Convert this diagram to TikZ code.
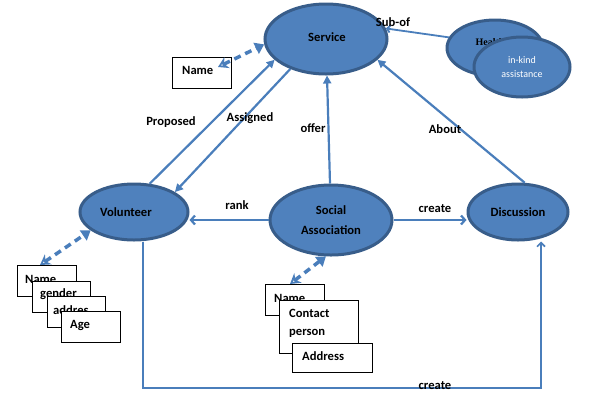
\documentclass[tikz,border=0pt]{standalone}
\usepackage{fontspec}
\setmainfont{Carlito}
\newfontfamily\serifhl{Liberation Serif}
\usetikzlibrary{shapes.geometric,arrows.meta}
\definecolor{fillb}{RGB}{79,129,189}
\definecolor{edgeb}{RGB}{56,93,138}
\definecolor{lineb}{RGB}{74,126,187}
\begin{document}
\begin{tikzpicture}[x=1pt,y=-1pt,
  font=\fontsize{12.6}{15}\selectfont\bfseries,
  ent/.style={ellipse, draw=edgeb, line width=3pt, fill=fillb, inner sep=0pt},
  conn/.style={draw=lineb, line width=2.2pt},
  arr/.style={conn, -{Triangle[length=8pt,width=8pt]}},
  barb/.style={conn, -{Straight Barb[length=4pt,width=9pt]}},
  attr/.style={draw=black, line width=1.2pt, fill=white, inner sep=0pt, anchor=north west},
  dsh/.style={draw=lineb, line width=3.5pt, dash pattern=on 7pt off 5pt,
     {Stealth[open,length=10pt,width=12pt,line width=2.2pt]}-{Triangle[length=9pt,width=12pt]}},
  lbl/.style={inner sep=0pt}]
\useasboundingbox (0,0) rectangle (596,392);

% ellipses
\node[ent, minimum width=122pt, minimum height=70pt] (serv) at (326,39) {};
\node[lbl] (servt) at (327,37) {Service};
\node[ent, minimum width=108pt, minimum height=56pt] (vol) at (134,212) {};
\node[lbl] (volt) at (126,212) {Volunteer};
\node[ent, minimum width=122pt, minimum height=70pt, align=center,
      font=\fontsize{12.6}{20}\selectfont\bfseries] (sa) at (331,220) {Social\\Association};
\node[ent, minimum width=100pt, minimum height=56pt] (disc) at (518,212) {Discussion};
\node[ent, minimum width=96pt, minimum height=56pt] (health) at (495,48) {};
\node[lbl, font=\serifhl\fontsize{10}{12}\selectfont\bfseries] (healtht) at (490,42) {Health};
\node[ent, minimum width=96pt, minimum height=60pt, align=center, text=white,
      font=\fontsize{10}{14}\selectfont] (inkind) at (522,67) {in-kind\\assistance};

% service name box
\node[attr, minimum width=59pt, minimum height=31pt] (nb) at (172,57) {};
\node[lbl, anchor=west] (nbt) at (182,70) {Name};

% volunteer attribute boxes
\node[attr, minimum width=59pt, minimum height=31pt] (vb1) at (17,265) {};
\node[lbl, anchor=west] (vt1) at (25,279) {Name};
\node[attr, minimum width=58pt, minimum height=31pt] (vb2) at (32,281) {};
\node[lbl, anchor=west] (vt2) at (40,294) {gender};
\node[attr, minimum width=58pt, minimum height=31pt] (vb3) at (47,296) {};
\node[lbl, anchor=west] (vt3) at (53,310) {addres};
\node[attr, minimum width=59pt, minimum height=31pt] (vb4) at (61,311) {};
\node[lbl, anchor=west] (vt4) at (70,325) {Age};

% social association attribute boxes
\node[attr, minimum width=59pt, minimum height=31pt] (sb1) at (265,284) {};
\node[lbl, anchor=west] (st1) at (274,298) {Name};
\node[attr, minimum width=79pt, minimum height=53pt] (sb2) at (279,300) {};
\node[lbl, anchor=west] (st2) at (289,313) {Contact};
\node[lbl, anchor=west] (st3) at (289,333) {person};
\node[attr, minimum width=80pt, minimum height=29pt] (sb3) at (292,343) {};
\node[lbl, anchor=west] (st4) at (302,356) {Address};

% connectors
\draw[arr] (vol.61) -- (serv.202);
\draw[arr] (serv.220) -- (vol.26);
\draw[arr] (sa) -- (serv);
\draw[arr] (disc.77) -- (serv.338);
\draw[barb] (sa.west) -- (vol.east |- sa.west);
\draw[barb] (sa.east) -- (disc.west |- sa.east);
\draw[conn, line width=1.8pt, -{Straight Barb[length=3pt,width=7pt]}] (health.167) -- (serv.10);
\coordinate (b1) at (143,388);
\coordinate (b2) at (541,388);
\draw[conn, line width=1.6pt, -{Straight Barb[length=4pt,width=8pt]}]
  (vol.south -| b1) -- (b1) -- (b2) -- (b2 |- disc.south);

% dashed attribute links
\coordinate (nd) at (218,67);
\coordinate (vd) at (40,265);
\coordinate (sd) at (290,284);
\draw[dsh] (nd) -- (serv.185);
\draw[dsh] (vd) -- (vol.203);
\draw[dsh] (sd) -- (sa.262);

% labels
\node[lbl] (lp) at (171,122) {Proposed};
\node[lbl] (la) at (250,118) {Assigned};
\node[lbl] (lo) at (313,128) {offer};
\node[lbl] (lab) at (445,129) {About};
\node[lbl] (lr) at (237,205) {rank};
\node[lbl] (lc) at (435,209) {create};
\node[lbl] (lc2) at (435,386) {create};
\node[lbl] (ls) at (393,22) {Sub-of};
\end{tikzpicture}
\end{document}
